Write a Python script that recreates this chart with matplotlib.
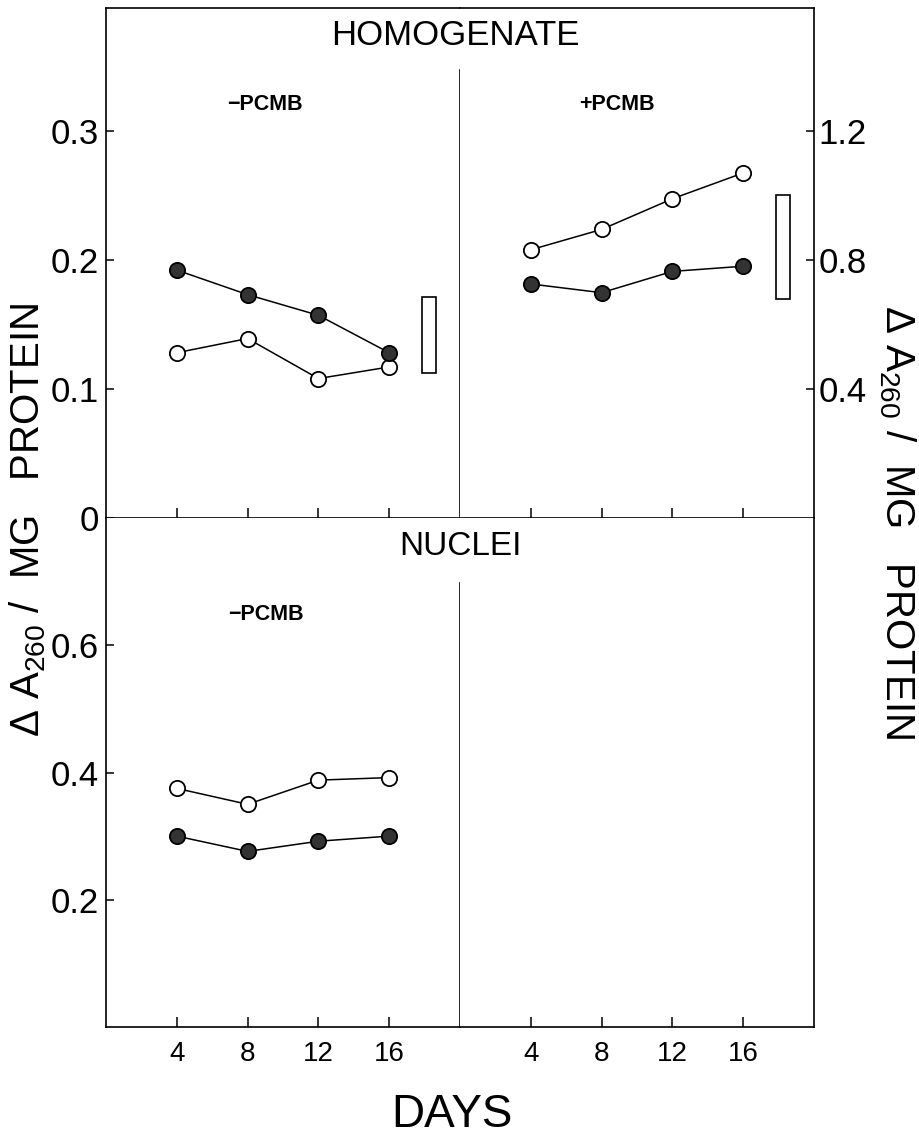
import matplotlib
matplotlib.use("Agg")
import matplotlib.pyplot as plt
from matplotlib.ticker import FuncFormatter

plt.rcParams['font.family'] = ['Liberation Sans', 'DejaVu Sans']
plt.rcParams['mathtext.fontset'] = 'custom'
plt.rcParams['mathtext.rm'] = 'Liberation Sans'
plt.rcParams['mathtext.it'] = 'Liberation Sans:italic'
plt.rcParams['mathtext.default'] = 'regular'

# datos
days = [4, 8, 12, 16]

# homogenado sin PCMB (eje izquierdo)
hom_minus_open = [0.128, 0.139, 0.108, 0.117]
hom_minus_filled = [0.192, 0.173, 0.157, 0.128]
hom_minus_range = [0.112, 0.171]

# homogenado con PCMB (eje derecho)
hom_plus_open = [0.831, 0.894, 0.989, 1.069]
hom_plus_filled = [0.725, 0.698, 0.764, 0.780]
hom_plus_range = [0.677, 1.000]

# nucleos sin PCMB
nuc_minus_open = [0.375, 0.350, 0.388, 0.392]
nuc_minus_filled = [0.300, 0.276, 0.292, 0.300]

range_day = 18.25

left_ticks = [0, 0.1, 0.2, 0.3]
right_ticks = [0.4, 0.8, 1.2]
nuc_ticks = [0.2, 0.4, 0.6]

# geometria en pixeles
W, H = 920, 1139
def fx(px):
    return px / W
def fy(py):
    return 1 - py / H

x_left, x_mid, x_right = 106, 460, 814
y_top, y_mid, y_bot = 8, 518, 1027

fig = plt.figure(figsize=(9.2, 11.39), dpi=100)
ax_tl = fig.add_axes([fx(x_left), fy(y_mid), (x_mid - x_left) / W, (y_mid - y_top) / H])
ax_tr = fig.add_axes([fx(x_mid), fy(y_mid), (x_right - x_mid) / W, (y_mid - y_top) / H])
ax_bl = fig.add_axes([fx(x_left), fy(y_bot), (x_mid - x_left) / W, (y_bot - y_mid) / H])
ax_br = fig.add_axes([fx(x_mid), fy(y_bot), (x_right - x_mid) / W, (y_bot - y_mid) / H])

lw = 1.1
fill_col = '#333333'

def series(ax, y_open, y_filled):
    ax.plot(days, y_open, '-o', color='black', lw=lw, ms=11, mew=1.3,
            mfc='white', mec='black', zorder=3, clip_on=False)
    ax.plot(days, y_filled, '-o', color='black', lw=lw, ms=11, mew=1.3,
            mfc=fill_col, mec='black', zorder=3, clip_on=False)

series(ax_tl, hom_minus_open, hom_minus_filled)
series(ax_tr, hom_plus_open, hom_plus_filled)
series(ax_bl, nuc_minus_open, nuc_minus_filled)

ax_tl.bar(range_day, hom_minus_range[1] - hom_minus_range[0], bottom=hom_minus_range[0],
          width=0.8, facecolor='white', edgecolor='black', linewidth=1.2)
ax_tr.bar(range_day, hom_plus_range[1] - hom_plus_range[0], bottom=hom_plus_range[0],
          width=0.75, facecolor='white', edgecolor='black', linewidth=1.2)

for ax in [ax_tl, ax_tr, ax_bl, ax_br]:
    ax.set_xlim(0, 20)
    ax.set_xticks(days)
    for s in ax.spines.values():
        s.set_linewidth(1.2)
    ax.tick_params(axis='x', direction='in', length=7.5, width=1.1, labelsize=20, pad=10)
    ax.tick_params(axis='y', direction='in', length=6, width=1.1, labelsize=25, pad=5)

ax_tl.set_ylim(0, 0.395)
ax_tr.set_ylim(0, 0.395 * 4)
ax_bl.set_ylim(0, 0.8)
ax_br.set_ylim(0, 0.8)

fmt = FuncFormatter(lambda v, _: '0' if v == 0 else f'{v:.1f}')
ax_tl.set_yticks(left_ticks)
ax_tl.yaxis.set_major_formatter(fmt)
ax_tl.spines['right'].set_visible(False)
ax_tl.tick_params(labelbottom=False)

ax_tr.yaxis.tick_right()
ax_tr.set_yticks(right_ticks)
ax_tr.yaxis.set_major_formatter(fmt)
ax_tr.spines['left'].set_visible(False)
ax_tr.tick_params(labelbottom=False, pad=3)

ax_bl.set_yticks(nuc_ticks)
ax_bl.yaxis.set_major_formatter(fmt)
ax_bl.spines['right'].set_visible(False)
ax_bl.spines['top'].set_visible(False)

ax_br.set_yticks([])
ax_br.spines['left'].set_visible(False)
ax_br.spines['top'].set_visible(False)

# lineas divisorias centrales
ax_tl.axvline(20, ymin=0, ymax=(y_mid - 70) / (y_mid - y_top), color='black', lw=1.2, clip_on=False)
ax_bl.axvline(20, ymin=0, ymax=(y_bot - 583) / (y_bot - y_mid), color='black', lw=1.2, clip_on=False)

# textos
fig.text(fx(455), fy(45), 'HOMOGENATE', ha='center', va='baseline', fontsize=25)
fig.text(fx(460), fy(555), 'NUCLEI', ha='center', va='baseline', fontsize=24)
fig.text(fx(265), fy(110), '\u2212PCMB', ha='center', va='baseline', fontsize=15.5, fontweight='bold')
fig.text(fx(617), fy(110), '+PCMB', ha='center', va='baseline', fontsize=15.5, fontweight='bold')
fig.text(fx(266), fy(620), '\u2212PCMB', ha='center', va='baseline', fontsize=15.5, fontweight='bold')
fig.text(fx(452), fy(1127), 'DAYS', ha='center', va='baseline', fontsize=33)

ylab = '\u0394 A$_{260}$ /  MG   PROTEIN'
fig.text(fx(28), fy(520), ylab, rotation=90, ha='center', va='center', fontsize=29)
fig.text(fx(897), fy(522), ylab, rotation=270, ha='center', va='center', fontsize=29)

fig.savefig('out.png', dpi=100)
